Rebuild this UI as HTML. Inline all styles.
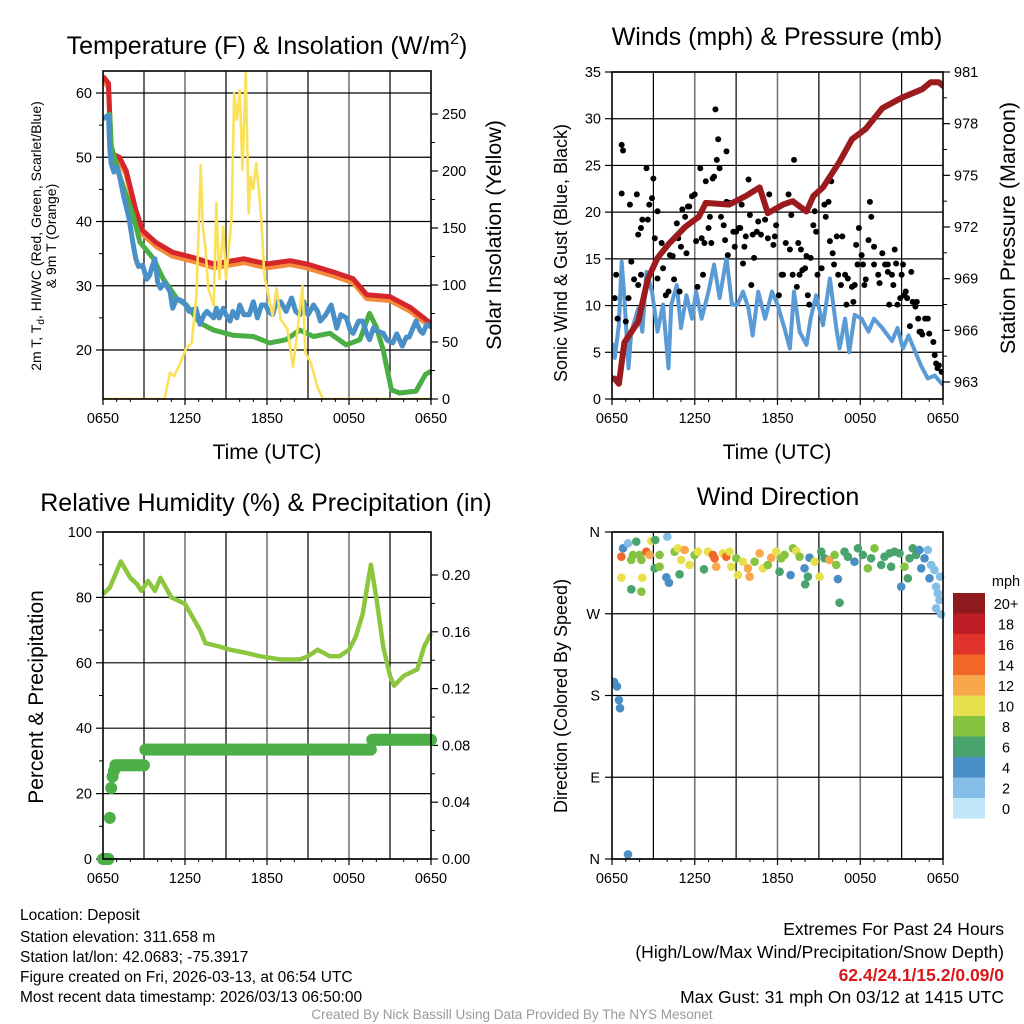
<!DOCTYPE html>
<html><head><meta charset="utf-8"><style>
html,body{margin:0;padding:0;background:#fff;}
svg{display:block;font-family:"Liberation Sans",Arial,sans-serif;}
</style></head><body>
<svg id="fig" width="1024" height="1024" viewBox="0 0 1024 1024" xmlns="http://www.w3.org/2000/svg">
<rect width="1024" height="1024" fill="#fff"/>
<g font-size="25" text-anchor="middle" fill="#000">
<text x="267" y="54">Temperature (F) &amp; Insolation (W/m<tspan font-size="16" dy="-10">2</tspan><tspan dy="10">)</tspan></text>
<text x="777" y="45">Winds (mph) &amp; Pressure (mb)</text>
<text x="266" y="511">Relative Humidity (%) &amp; Precipitation (in)</text>
<text x="778" y="505">Wind Direction</text>
</g>
<g font-size="21" text-anchor="middle">
<text x="267" y="459">Time (UTC)</text>
<text x="777" y="459">Time (UTC)</text>
<text transform="translate(501,235) rotate(-90)" font-size="21.5">Solar Insolation (Yellow)</text>
<text transform="translate(1015,228) rotate(-90)" font-size="21.5">Station Pressure (Maroon)</text>
<text transform="translate(567,253) rotate(-90)" font-size="18">Sonic Wind &amp; Gust (Blue, Black)</text>
<text transform="translate(43,697) rotate(-90)" font-size="21">Percent &amp; Precipitation</text>
<text transform="translate(567,696) rotate(-90)" font-size="18">Direction (Colored By Speed)</text>
<g font-size="14">
<text transform="translate(41,236) rotate(-90)">2m T, T<tspan font-size="10" dy="3">d</tspan><tspan dy="-3">, HI/WC (Red, Green, Scarlet/Blue)</tspan></text>
<text transform="translate(56,236) rotate(-90)">&amp; 9m T (Orange)</text>
</g>
</g>
<g font-size="15.5" fill="#000">
<text x="20" y="920">Location: Deposit</text>
<text x="20" y="942">Station elevation: 311.658 m</text>
<text x="20" y="962">Station lat/lon: 42.0683; -75.3917</text>
<text x="20" y="982">Figure created on Fri, 2026-03-13, at 06:54 UTC</text>
<text x="20" y="1002">Most recent data timestamp: 2026/03/13 06:50:00</text>
<g text-anchor="end" font-size="17.5">
<text x="1004" y="935">Extremes For Past 24 Hours</text>
<text x="1004" y="958">(High/Low/Max Wind/Precipitation/Snow Depth)</text>
<text x="1004" y="981" fill="#d7191c" font-weight="bold">62.4/24.1/15.2/0.09/0</text>
<text x="1004" y="1003">Max Gust: 31 mph On 03/12 at 1415 UTC</text>
</g>
<text x="512" y="1019" font-size="13.5" fill="#999" text-anchor="middle">Created By Nick Bassill Using Data Provided By The NYS Mesonet</text>
</g>
</svg>
<script>
// ---------------- data ----------------
const xTickLabels = ["0650","1250","1850","0050","0650"];
const tempTicks = [20,30,40,50,60];
const solarTicks = [0,50,100,150,200,250];
const windTicks = [0,5,10,15,20,25,30,35];
const presTicks = [963,966,969,972,975,978,981];
const rhTicks = [0,20,40,60,80,100];
const precipTicks = [0,0.04,0.08,0.12,0.16,0.20];
const dirLabels = ["N","W","S","E","N"];
const dirTicks = [360,270,180,90,0];
const cbLabels = ["20+","18","16","14","12","10","8","6","4","2","0"];
const cbColors = ["#8e1a1e","#bd1e26","#e0332c","#f1672a","#f8a74a","#e7e04d","#86c341","#48a46c","#4a8ec6","#84bde6","#bfe6f8"];

const tHour = [0,0.4,0.6,1.2,1.7,2.4,2.9,3.9,5.1,6.6,8.1,10.3,12.0,13.7,14.9,16.9,18.3,19.3,21.0,22.5,23.9,24];
const tRed  = [62.6,61.5,50.6,50.0,47.9,41.8,38.6,36.7,35.2,34.4,33.4,34.2,33.4,33.9,33.4,32.1,31.1,28.6,28.3,26.6,24.3,24.3];
const tdHour = [0,0.5,0.6,1.2,1.7,2.2,2.7,3.7,4.4,5.4,6.1,7.1,8.1,9.5,11.0,12.2,13.4,14.4,15.4,16.6,17.8,18.8,19.5,20.0,20.5,21.1,21.7,22.9,23.6,24];
const tdGreen = [56.0,56.7,51.8,47.2,44.1,41.0,36.8,34.2,31.1,28.0,27.0,24.2,23.1,22.3,22.1,21.1,21.6,23.1,22.1,22.6,20.8,21.6,25.7,23.6,20.0,13.8,13.3,13.6,16.2,16.7];
const wcHour = [0,0.4,0.5,0.6,0.8,1.0,1.2,1.5,1.9,2.2,2.4,2.6,2.9,3.2,3.4,3.6,3.8,4.0,4.2,4.5,4.9,5.1,5.4,5.9,6.3,6.8,7.1,7.4,7.6,8.1,8.3,8.5,8.8,9.0,9.3,9.5,9.8,10.0,10.3,10.7,11.0,11.3,11.6,11.9,12.1,12.4,12.7,13.0,13.4,13.8,14.1,14.4,14.7,15.0,15.4,15.7,15.9,16.3,16.7,17.1,17.4,17.8,18.1,18.3,18.7,19.0,19.3,19.5,19.8,20.0,20.5,20.8,21.2,21.5,21.9,22.2,22.4,22.9,23.2,23.4,23.7,24];
const wcBlue = [56.0,56.5,51.3,49.0,47.7,48.5,47.2,44.0,40.5,36.5,34.2,33.0,33.2,31.0,31.6,33.0,34.2,30.5,29.6,30.5,29.1,26.5,28.0,27.5,26.0,26.5,24.0,25.5,26.0,25.0,26.5,25.0,26.5,25.5,24.5,26.0,25.0,27.0,25.5,25.5,27.5,25.0,27.0,27.0,26.0,25.5,27.5,27.5,26.0,28.1,26.0,25.5,27.5,25.5,27.0,26.0,24.5,25.5,27.0,23.4,25.5,25.0,23.0,22.6,24.5,24.5,22.5,21.6,23.5,23.0,22.6,21.5,21.1,22.5,20.6,22.0,22.0,24.5,23.0,22.6,24.0,23.6];
const solHour = [0,4.5,4.9,5.2,5.6,6.1,6.5,6.85,7.15,7.3,7.5,7.7,8.1,8.3,8.5,8.8,9.0,9.4,9.6,9.8,10.0,10.2,10.45,10.65,10.8,11.0,11.2,11.4,11.6,11.8,12.1,12.4,12.7,13.0,13.5,13.9,14.3,14.6,14.8,15.2,15.7,16.1,24];
const solW = [0,0,23,20,30,45,49,93,205,151,132,97,82,172,105,151,105,158,268,245,271,201,286,163,195,184,207,184,155,108,91,73,97,70,61,28,67,99,41,32,10,0,0];

const presHour = [0,0.2,0.5,0.9,1.9,2.6,3.3,4.1,5.3,6.3,6.8,8.5,9.7,10.7,11.3,12.4,13.1,14.1,14.6,15.3,16.5,17.4,18.4,19.6,21.0,22.5,23.1,23.7,24];
const presMb = [963.2,963.2,962.9,965.3,966.5,969.0,970.2,971.0,972.0,972.6,973.4,973.3,973.8,974.3,972.8,973.3,973.5,972.9,973.8,974.3,975.8,977.1,977.7,978.9,979.5,980.0,980.4,980.4,980.2];
const windHour = [0,0.2,0.5,0.7,0.9,1.2,1.4,1.9,2.2,2.5,2.9,3.3,3.7,4.1,4.3,4.7,5.0,5.4,5.8,6.1,6.5,7.0,7.4,7.8,8.3,8.7,9.1,9.5,9.9,10.2,10.6,11.1,11.6,12.0,12.5,12.9,13.2,13.6,14.1,14.4,14.8,15.3,15.8,16.3,16.5,16.9,17.2,17.6,18.1,18.6,19.0,19.6,20.3,20.7,21.1,21.5,22.0,22.4,22.9,23.4,24];
const windMph = [6,4.4,8,14.7,10.8,3.3,7.2,9.7,7.2,13.6,11.5,7.2,10.1,3.3,10.1,12.2,7.6,11.1,8.6,11.5,8.6,11.5,14.4,10.8,15.1,10.1,10.1,11.5,9.7,6.8,11.5,8.6,11.5,10.1,7.6,5.4,11.5,7.2,5.8,8.6,11.1,7.9,12.9,7.2,5.4,8.6,5.0,9.0,8.6,7.2,8.6,7.6,6.2,7.6,5.4,6.8,5.0,3.6,2.2,2.5,1.5];
const gustHour = [0.2,0.3,0.4,0.7,0.8,0.7,1.0,1.2,1.3,1.4,1.6,1.8,1.9,1.9,2.1,2.2,2.1,2.5,2.6,2.7,2.9,3.0,3.1,3.3,3.3,3.6,3.7,3.9,4.1,4.2,4.4,4.5,4.7,4.8,4.9,5.0,5.1,5.3,5.4,5.5,5.6,5.8,6.0,6.1,6.2,6.4,6.5,6.6,6.7,6.8,7.0,7.1,7.2,7.3,7.4,7.5,7.6,7.7,7.8,7.9,8.1,8.2,8.3,8.3,8.4,8.5,8.8,8.9,9.0,9.2,9.3,9.4,9.5,9.6,9.7,9.9,10.0,10.1,10.2,10.3,10.5,10.6,10.8,11.1,11.3,11.4,11.7,11.8,11.9,12.1,12.3,12.4,12.6,12.8,12.9,13.0,13.1,13.2,13.4,13.5,13.6,13.7,13.8,14.0,14.1,14.2,14.3,14.4,14.6,14.7,14.8,14.9,15.2,15.4,15.5,15.7,15.8,15.9,16.0,16.1,16.3,16.4,16.6,16.7,16.9,17.0,17.1,17.4,17.5,17.6,17.7,17.8,17.9,18.1,18.2,18.3,18.4,18.6,18.7,18.8,19.0,19.0,19.3,19.4,19.6,19.8,20.0,20.0,20.1,20.3,20.4,20.5,20.6,20.7,20.9,21.0,21.1,21.2,21.3,21.4,21.6,21.7,21.8,22.0,22.1,22.2,22.3,22.4,22.5,22.7,22.9,23.0,23.3,23.4,23.5,23.6,23.7,23.9];
const gustMph = [10.8,13.3,8.6,27.2,26.6,22.0,8.3,10.8,20.8,14.7,12.8,21.9,12.2,17.6,18.3,19.2,13.3,24.7,19.2,20.8,21.5,23.6,17.2,20.1,12.9,16.7,14.0,11.1,11.5,15.4,15.3,12.8,18.8,17.2,11.5,16.3,20.3,19.5,15.6,20.6,20.6,21.7,21.9,16.9,12.0,24.7,17.2,13.3,16.7,23.3,18.3,19.5,16.7,23.6,23.8,31.0,25.6,27.8,24.7,19.5,18.6,17.0,26.5,21.1,15.4,21.0,17.9,16.3,17.9,18.3,18.3,20.8,14.5,16.3,17.4,23.5,19.7,12.2,17.6,15.1,17.9,19.0,17.6,19.2,17.2,21.9,16.5,17.4,18.6,11.1,13.3,13.3,16.7,21.9,16.0,19.7,13.3,25.6,12.0,16.7,13.3,16.0,13.8,14.0,15.3,11.1,10.1,15.1,18.6,20.1,17.9,13.3,14.0,20.8,19.5,21.1,16.9,23.3,15.6,14.4,17.4,13.3,12.2,17.4,13.3,10.1,12.9,12.0,10.4,12.2,16.5,14.4,18.3,15.4,14.4,12.2,12.8,17.0,21.1,19.5,14.4,16.3,13.3,12.4,15.6,14.4,13.6,14.4,10.1,13.3,12.2,16.0,14.5,10.1,10.8,13.3,14.4,11.1,11.5,10.8,7.8,13.6,10.4,9.9,10.4,8.6,7.2,7.2,6.9,8.6,8.6,7.0,6.1,4.7,3.8,3.3,3.6,2.9];

const rhHour = [0,0.5,1.0,1.3,2.0,2.5,2.8,3.3,3.8,4.2,5.0,6.0,7.1,7.5,8.5,9.3,10.5,11.5,13.0,14.4,15.0,15.7,16.6,17.3,18.0,18.5,19.0,19.4,19.6,20.0,20.5,21.0,21.3,22.0,23.0,23.5,24];
const rhPct = [81,83,88,91,86,84,82,85,82,86,80,78,70,66,65,64,63,62,61,61,62,64,62,62,64,68,75,85,90,80,65,56,53,56,58,65,69];
const precipHour = [0,0.5,0.6,0.65,0.75,0.85,3.05,19.7];
const precipIn = [0,0.029,0.050,0.058,0.062,0.066,0.077,0.084];

const wdHour = [0.15,0.36,0.5,0.58,1.16,0.68,0.80,1.16,1.76,1.52,1.40,2.00,0.68,1.40,2.13,2.20,2.13,2.49,2.73,2.85,3.14,3.45,3.09,3.45,3.94,4.13,4.01,4.54,4.78,4.90,5.02,5.27,5.63,5.99,6.23,6.67,6.96,7.32,7.44,7.56,8.04,8.29,8.53,8.65,9.01,9.13,9.49,9.86,9.98,10.34,10.70,10.94,11.30,11.55,11.91,12.15,12.27,12.51,12.95,13.12,13.36,13.60,13.96,14.20,14.01,14.32,14.69,15.05,15.17,15.41,15.77,16.14,16.26,16.38,16.50,16.86,17.10,17.58,17.83,18.19,18.55,18.79,19.03,19.52,19.76,20.12,20.24,20.48,20.85,20.97,21.21,21.45,21.57,21.81,22.05,22.29,22.42,22.66,22.90,23.02,23.14,23.38,23.50,23.62,23.74,23.50,23.86,23.79];
const wdDir = [195,190,175,166,5,332.8,342.0,347.5,349.4,334.7,329.2,334.7,309.7,296.9,294.3,309.7,329.2,338.3,334.7,350.1,351.2,334.7,320.0,321.8,310.1,304.2,354.9,338.3,342.0,313.4,329.2,340.2,323.7,334.7,338.3,318.9,338.3,334.7,331.0,321.8,336.5,332.8,338.3,321.8,331.0,312.6,327.3,320.0,310.8,327.3,336.5,320.0,323.7,331.7,338.3,316.3,331.0,334.7,312.6,342.0,339.0,332.8,320.0,310.8,302.4,331.7,327.3,310.8,338.3,331.0,329.2,334.7,323.7,308.2,282.2,338.3,332.8,327.3,342.0,334.7,320.0,331.0,342.0,323.7,332.8,336.5,321.8,338.3,336.5,299.8,321.8,309.0,331.0,342.0,334.7,340.2,320.0,331.0,340.2,309.0,323.7,318.2,299.8,292.5,285.1,276.0,269.3,310.8];
const wdSpd = [4,4,4,4,4,14,4,2,6,8,8,8,10,6,8,10,8,14,12,10,6,8,6,8,4,4,2,8,10,6,10,12,10,8,10,6,10,14,14,12,10,14,10,10,8,10,10,12,12,8,12,10,8,12,10,6,8,8,4,8,10,8,4,6,6,4,10,10,6,6,12,8,8,4,6,6,6,4,6,6,8,6,8,6,6,6,6,6,6,4,8,6,6,6,6,4,4,4,2,4,2,2,2,2,2,2,2,2];

// ---------------- helpers ----------------
const NS = "http://www.w3.org/2000/svg";
const svg = document.getElementById("fig");
function mk(tag, attrs, parent){
  const e = document.createElementNS(NS, tag);
  for (const k in attrs) e.setAttribute(k, attrs[k]);
  (parent||svg).appendChild(e);
  return e;
}
function txt(x,y,s,anchor,size,parent){
  const t = mk("text",{x:x,y:y,"text-anchor":anchor,"font-size":size},parent);
  t.textContent = s;
  return t;
}
function lin(d0,d1,r0,r1){ return v => r0 + (v-d0)/(d1-d0)*(r1-r0); }

function panel(name, L, R, T, B){
  const g = mk("g",{});
  
  
  const x = lin(0,24,L,R);
  for (let h=3; h<24; h+=3){
    const major = h%6===0;
    const gl = mk("line",{x1:x(h),x2:x(h),y1:T,y2:B,stroke:major?"#777":"#000","stroke-width":major?1.6:1.2},g);
    
    
  }
  for (let i=0;i<xTickLabels.length;i++){
    const h=i*6;
    const tk = mk("line",{x1:x(h),x2:x(h),y1:B,y2:B+6,stroke:"#000","stroke-width":1.2},g);
    
    
    const lb = txt(x(h),B+24,xTickLabels[i],"middle",14.5,g);
    
    
  }
  for (let h=1; h<24; h++){ if(h%3) mk("line",{x1:x(h),x2:x(h),y1:B,y2:B+3,stroke:"#000"},g); }
  return {g,x};
}
function yAxis(g, ticks, fmt, scale, xEdge, side, L, R, grid, minorStep){
  for (const v of ticks){
    const y = scale(v);
    if (grid){
      const gl = mk("line",{x1:L,x2:R,y1:y,y2:y,stroke:"#000","stroke-width":1.2},g);
      
      
    }
    mk("line",{x1:xEdge,x2:xEdge+side*7,y1:y,y2:y,stroke:"#000","stroke-width":1.2},g);
    const lb = txt(xEdge+side*11, y+5, fmt(v), side<0?"end":"start", 14.5, g);
    
    
  }
  if (minorStep){
    for (let i=0;i<ticks.length-1;i++){
      const m=(ticks[i]+ticks[i+1])/2;
      mk("line",{x1:xEdge,x2:xEdge+side*4,y1:scale(m),y2:scale(m),stroke:"#000"},g);
    }
  }
}
function pathFrom(xs, ys, fx, fy){
  let d="";
  for (let i=0;i<xs.length;i++) d += (i?"L":"M")+fx(xs[i]).toFixed(1)+","+fy(ys[i]).toFixed(1);
  return d;
}
function frame(g,L,R,T,B){
  const f = mk("rect",{x:L,y:T,width:R-L,height:B-T,fill:"none",stroke:"#000","stroke-width":1.6},g);
  
  
}

// ---------------- Panel 1: Temperature ----------------
(function(){
  const L=103,R=431,T=71,B=399;
  const {g,x} = panel("temperature-panel",L,R,T,B);
  const yT = lin(20,60,350,93);
  const yS = lin(0,250,399,114);
  yAxis(g,tempTicks,v=>String(v),yT,L,-1,L,R,true,true);
  yAxis(g,solarTicks,v=>String(v),yS,R,1,L,R,false,true);
  const clip = mk("clipPath",{id:"c1"},g); mk("rect",{x:L,y:T,width:R-L,height:B-T},clip);
  const cg = mk("g",{"clip-path":"url(#c1)"},g);
  const orange = mk("path",{d:pathFrom(tHour,tRed.map(v=>v-0.6),x,yT),fill:"none",stroke:"#f58a3a","stroke-width":5,"stroke-linejoin":"round"},cg);
  
  
  const red = mk("path",{d:pathFrom(tHour,tRed,x,yT),fill:"none",stroke:"#d7262b","stroke-width":5,"stroke-linejoin":"round"},cg);
  
  
  const blue = mk("path",{d:pathFrom(wcHour,wcBlue,x,yT),fill:"none",stroke:"#4a90c8","stroke-width":5,"stroke-linejoin":"round"},cg);
  
  
  const green = mk("path",{d:pathFrom(tdHour,tdGreen,x,yT),fill:"none",stroke:"#4aae44","stroke-width":5,"stroke-linejoin":"round"},cg);
  
  
  cg.appendChild(blue);
  const sol = mk("path",{d:pathFrom(solHour,solW,x,yS),fill:"none",stroke:"#fbe05a","stroke-width":2.6,"stroke-linejoin":"round"},cg);
  
  
  frame(g,L,R,T,B);
})();

// ---------------- Panel 2: Winds & Pressure ----------------
(function(){
  const L=612,R=943,T=72,B=399;
  const {g,x} = panel("winds-panel",L,R,T,B);
  const yW = lin(0,35,399,72);
  const yP = lin(963,981,382,72);
  yAxis(g,windTicks,v=>String(v),yW,L,-1,L,R,true,false);
  yAxis(g,presTicks,v=>String(v),yP,R,1,L,R,false,true);
  const clip = mk("clipPath",{id:"c2"},g); mk("rect",{x:L,y:T,width:R-L,height:B-T},clip);
  const cg = mk("g",{"clip-path":"url(#c2)"},g);
  const w = mk("path",{d:pathFrom(windHour,windMph,x,yW),fill:"none",stroke:"#5b9bd5","stroke-width":4,"stroke-linejoin":"round"},cg);
  
  
  for (let i=0;i<gustHour.length;i++){
    const c = mk("circle",{cx:x(gustHour[i]),cy:yW(gustMph[i]),r:3,fill:"#000"},cg);
    
    
  }
  const p = mk("path",{d:pathFrom(presHour,presMb,x,yP),fill:"none",stroke:"#9b1b1e","stroke-width":6,"stroke-linejoin":"round","stroke-linecap":"round"},cg);
  
  
  frame(g,L,R,T,B);
})();

// ---------------- Panel 3: RH & Precip ----------------
(function(){
  const L=103,R=431,T=532,B=859;
  const {g,x} = panel("humidity-panel",L,R,T,B);
  const yR = lin(0,100,859,532);
  const yPr = lin(0,0.20,859,575);
  yAxis(g,rhTicks,v=>String(v),yR,L,-1,L,R,true,true);
  yAxis(g,precipTicks,v=>v.toFixed(2),yPr,R,1,L,R,false,true);
  const clip = mk("clipPath",{id:"c3"},g); mk("rect",{x:L-8,y:T,width:R-L+16,height:B-T+8},clip);
  const cg = mk("g",{"clip-path":"url(#c3)"},g);
  const rh = mk("path",{d:pathFrom(rhHour,rhPct,x,yR),fill:"none",stroke:"#8cc63f","stroke-width":4.5,"stroke-linejoin":"round"},cg);
  
  
  for (let h=0; h<=24.001; h+=0.1){
    let v=0; for (let k=0;k<precipHour.length;k++) if (h>=precipHour[k]) v=precipIn[k];
    const c = mk("circle",{cx:x(h),cy:yPr(v),r:6,fill:"#4caf48"},cg);
    
    
  }
  frame(g,L,R,T,B);
})();

// ---------------- Panel 4: Wind Direction ----------------
(function(){
  const L=612,R=943,T=532,B=859;
  const {g,x} = panel("wind-direction-panel",L,R,T,B);
  const yD = lin(0,360,859,532);
  for (let i=0;i<dirTicks.length;i++){
    const y=yD(dirTicks[i]);
    const gl = mk("line",{x1:L,x2:R,y1:y,y2:y,stroke:"#000","stroke-width":1.2},g);
    
    
    mk("line",{x1:L,x2:L-7,y1:y,y2:y,stroke:"#000","stroke-width":1.2},g);
    const lb = txt(L-12,y+5,dirLabels[i],"end",14.5,g);
    
    
  }
  const clip = mk("clipPath",{id:"c4"},g); mk("rect",{x:L,y:T,width:R-L+6,height:B-T},clip);
  const cg = mk("g",{"clip-path":"url(#c4)"},g);
  for (let i=0;i<wdHour.length;i++){
    const idx = Math.max(0, Math.min(10, 10 - Math.floor(wdSpd[i]/2)));
    const c = mk("circle",{cx:x(wdHour[i]),cy:yD(wdDir[i]),r:4.3,fill:cbColors[idx]},cg);
    
    
  }
  frame(g,L,R,T,B);
  const cb = mk("g",{});
  
  
  const u = txt(1006,586,"mph","middle",14.5,cb);
  
  
  for (let i=0;i<cbColors.length;i++){
    const r = mk("rect",{x:953,y:593+i*20.5,width:32,height:20.5,fill:cbColors[i]},cb);
    
    
    const t = txt(1006,593+i*20.5+16,cbLabels[i],"middle",14.5,cb);
    
    
  }
})();
</script>
</body></html>
